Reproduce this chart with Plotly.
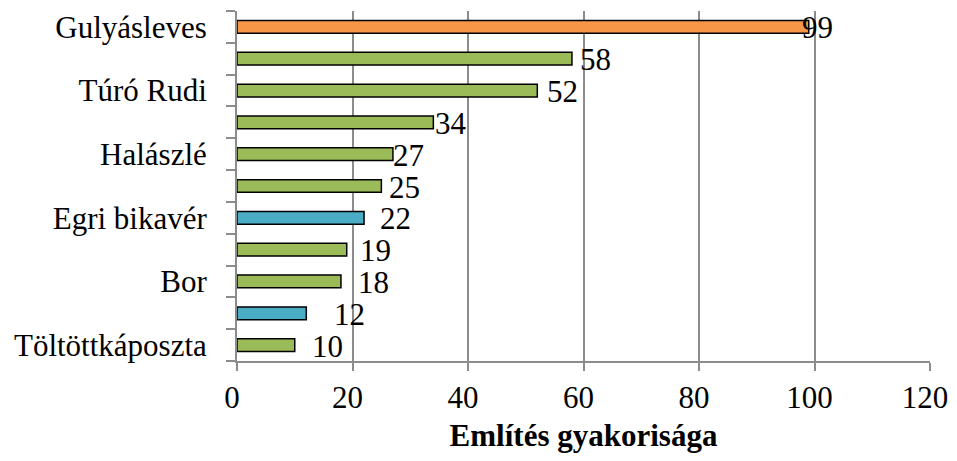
import plotly.graph_objects as go

# categories top to bottom (Excel only printed every other label)
categories = ["Gulyásleves", "", "Túró Rudi", "", "Halászlé", "",
              "Egri bikavér", "", "Bor", "", "Töltöttkáposzta"]
mentions = [99, 58, 52, 34, 27, 25, 22, 19, 18, 12, 10]

bar_colors = ["#F79646", "#9BBB59", "#9BBB59", "#9BBB59", "#9BBB59", "#9BBB59",
              "#4BACC6", "#9BBB59", "#9BBB59", "#4BACC6", "#9BBB59"]
# hand-placed data labels in the original, pixel nudges from bar end
label_nudge = [-9, 6, 8, 0, -2, 6, 14, 11, 15, 26, 15]

FONT = "Liberation Serif, Times New Roman, serif"
GRID = "#8C8C8C"

pos = list(range(len(categories)))

fig = go.Figure()
fig.add_trace(go.Bar(
    x=mentions, y=pos, orientation="h",
    marker=dict(color=bar_colors, line=dict(color="black", width=1.5)),
    showlegend=False, hoverinfo="x",
))

for i, v in enumerate(mentions):
    fig.add_annotation(x=v, y=i, text=str(v), showarrow=False,
                       xanchor="left", yanchor="middle",
                       xshift=label_nudge[i], yshift=-1,
                       font=dict(family=FONT, size=31, color="black"))

# the page keeps its 8px body margin, so the figure sits 8px in from the
# top-left corner; sized so nothing scrolls
fig.update_layout(
    width=949, height=445,
    margin=dict(l=229, r=27, t=2, b=90),
    paper_bgcolor="white", plot_bgcolor="white",
    bargap=0.6,
    font=dict(family=FONT, size=31, color="black"),
    xaxis=dict(
        range=[0, 120], dtick=20, tick0=0,
        showgrid=True, gridcolor=GRID, gridwidth=2,
        showline=True, linecolor=GRID, linewidth=2,
        ticks="outside", ticklen=8, tickcolor=GRID, tickwidth=2,
        zeroline=False, ticklabeloverflow="allow", ticklabelshift=-5,
        title=dict(text="<b>Említés gyakorisága</b>", standoff=14,
                   font=dict(family=FONT, size=31)),
    ),
    yaxis=dict(
        range=[len(categories) - 0.5, -0.5],
        tickmode="array", tickvals=pos, ticktext=categories,
        ticks="", showgrid=False, zeroline=False,
        showline=True, linecolor=GRID, linewidth=2,
        ticklabelstandoff=22,
        minor=dict(tickmode="linear", tick0=0.5, dtick=1, ticks="outside",
                   ticklen=9, tickcolor=GRID, tickwidth=2, showgrid=False),
    ),
)

fig.write_html("out.html", config={"displayModeBar": False})
